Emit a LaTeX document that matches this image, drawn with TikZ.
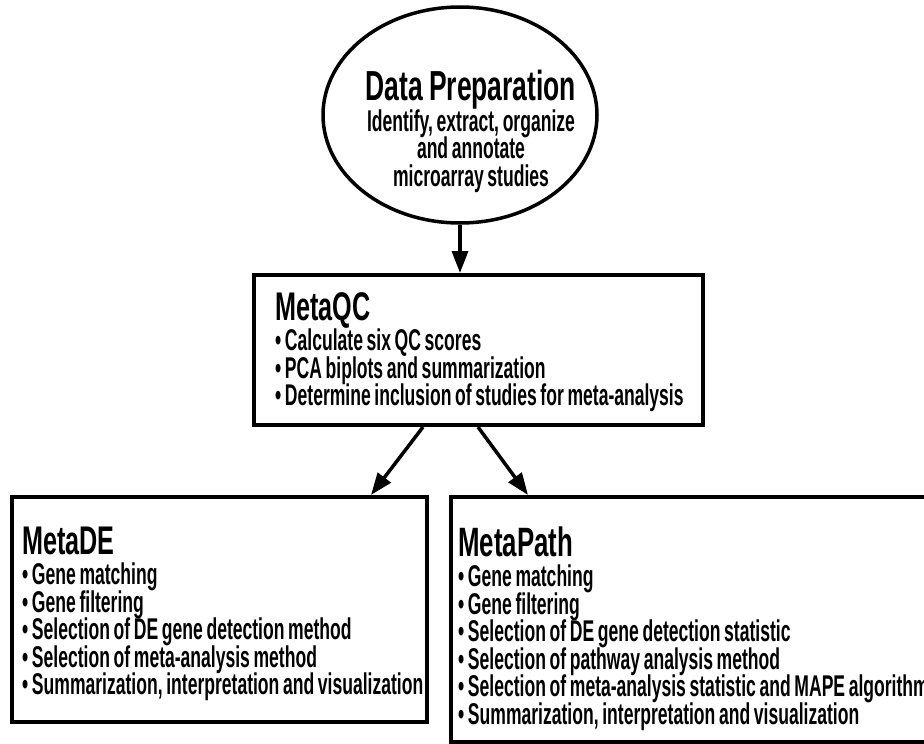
\documentclass[tikz,border=0pt]{standalone}
\usepackage{fontspec}
\newfontfamily\titlefam{Liberation Sans}[FakeStretch=0.63,WordSpace=0.8]
\newfontfamily\bodyfam{Liberation Sans}[FakeStretch=0.585,WordSpace=0.75]
\usetikzlibrary{arrows.meta,calc,shapes.geometric}
\newcommand\hdfont[1]{\fontsize{#1}{#1}\titlefam\bfseries\selectfont}
\newcommand\bodyfont{\bodyfam\bfseries\fontsize{30}{27.5}\selectfont\lineskiplimit=-30pt\relax}

\begin{document}
\begin{tikzpicture}[x=1pt,y=-1pt,
            box/.style={rectangle,draw=black,line width=4pt,fill=white},
            oval/.style={ellipse,draw=black,line width=3.5pt,inner sep=0pt},
            txt/.style={inner sep=0pt,align=flush left,font=\bodyfont,
              execute at begin node={\spaceskip=0pt\xspaceskip=0pt\relax}},
            flow/.style={line width=3.5pt,-{Triangle[length=22pt,width=16pt]}}]

            \useasboundingbox (0,0) rectangle (924,744);
            \clip (0,0) rectangle (924,744);

            % shapes
            \node[oval,minimum width=274,minimum height=216] (prep) at (460,115) {};
            \node[box,minimum width=449,minimum height=150] (qc) at (478.5,350) {};
            \node[box,minimum width=415,minimum height=225] (de) at (219.5,609.5) {};
            \node[box,minimum width=539,minimum height=245] (path) at (720.5,619.5) {};

            % texts
            \node[txt,align=center,anchor=north] (preptext) at (471,70)
               {{\hdfont{42}Data Preparation}\\[3pt]
                Identify, extract, organize\\ and annotate\\ microarray studies};
            \node[txt,anchor=north west,text width=440] (qctext) at (275,292)
               {{\hdfont{40}MetaQC}\\[3pt]
                • Calculate six QC scores\\
                • PCA biplots and summarization\\
                • Determine inclusion of studies for meta-analysis};
            \node[txt,anchor=north west,text width=440] (detext) at (22,526.5)
               {{\hdfont{40}MetaDE}\\[3pt]
                • Gene matching\\
                • Gene filtering\\
                • Selection of DE gene detection method\\
                • Selection of meta-analysis method\\
                • Summarization, interpretation and visualization};
            \node[txt,anchor=north west,text width=560] (pathtext) at (458,526.5)
               {{\hdfont{41}MetaPath}\\[3pt]
                • Gene matching\\
                • Gene filtering\\
                • Selection of DE gene detection statistic\\
                • Selection of pathway analysis method\\
                • Selection of meta-analysis statistic and MAPE algorithm\\
                • Summarization, interpretation and visualization};

            % arrows
            \draw[flow] (prep.south) -- (prep.south |- qc.north);
            \draw[flow] ($(qc.south west)+(171,0)$) -- ($(de.north west)+(361,0)$);
            \draw[flow] ($(qc.south west)+(226,0)$) -- ($(path.north west)+(79,0)$);
\end{tikzpicture}
\end{document}
